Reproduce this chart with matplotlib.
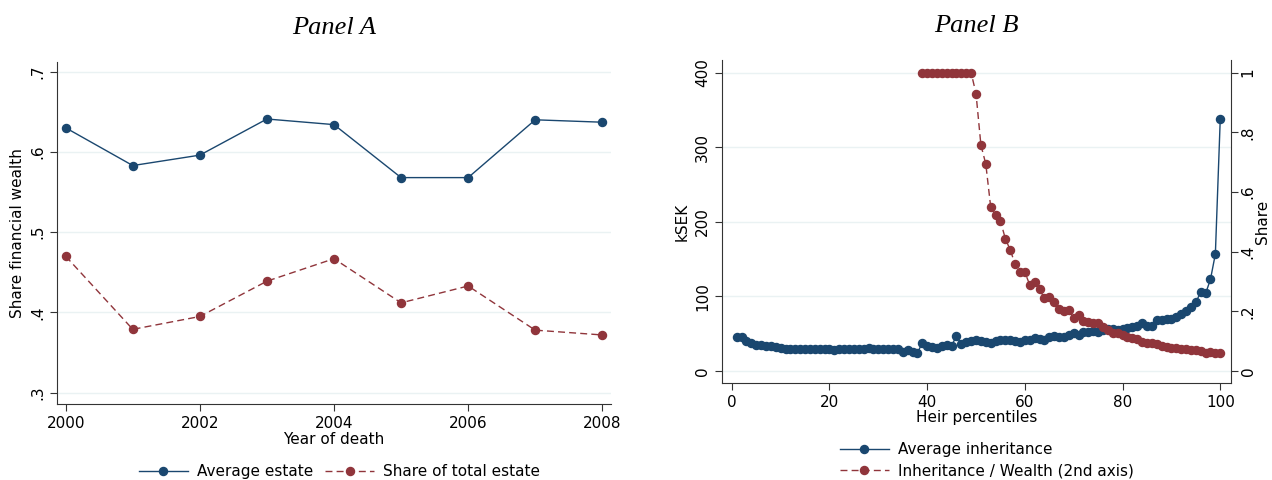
import matplotlib.pyplot as plt

# Panel A data
years = [2000, 2001, 2002, 2003, 2004, 2005, 2006, 2007, 2008]
avg_estate = [0.630, 0.583, 0.596, 0.641, 0.634, 0.568, 0.568, 0.640, 0.637]
share_total = [0.470, 0.379, 0.395, 0.439, 0.467, 0.412, 0.433, 0.378, 0.372]

# Panel B data
pct = list(range(1, 101))
avg_inher = [46, 46, 40, 37, 35, 35, 34, 33, 32, 31,
             30, 30, 29, 29, 29, 30, 30, 30, 29, 29,
             28, 29, 29, 29, 30, 29, 30, 31, 30, 30,
             29, 29, 30, 29, 25, 28, 26, 24, 38, 33,
             32, 31, 33, 35, 34, 47, 36, 39, 40, 41,
             40, 39, 37, 40, 42, 41, 41, 40, 39, 41,
             42, 44, 43, 42, 45, 47, 46, 45, 49, 51,
             49, 52, 53, 54, 53, 55, 56, 56, 55, 57,
             58, 59, 61, 65, 61, 60, 68, 68, 70, 70,
             73, 77, 80, 86, 92, 106, 104, 123, 157, 338]
pct_share = list(range(39, 101))
inher_share = [1.0, 1.0, 1.0, 1.0, 1.0, 1.0, 1.0, 1.0, 1.0, 1.0, 1.0,
               0.93, 0.758, 0.694, 0.551, 0.522, 0.503, 0.444, 0.406, 0.359, 0.333,
               0.331, 0.289, 0.298, 0.274, 0.244, 0.249, 0.233, 0.207, 0.202, 0.205,
               0.177, 0.188, 0.169, 0.166, 0.160, 0.162, 0.147, 0.138, 0.129, 0.127,
               0.121, 0.115, 0.110, 0.106, 0.098, 0.093, 0.093, 0.091, 0.084, 0.080,
               0.076, 0.076, 0.073, 0.073, 0.071, 0.071, 0.066, 0.061, 0.063, 0.062,
               0.062]

navy = '#1a476f'
maroon = '#90353b'
grid_c = '#eaf2f3'

plt.rcParams['font.family'] = 'DejaVu Sans'
plt.rcParams['font.size'] = 11

fig = plt.figure(figsize=(12.72, 4.8), dpi=100)

def style(ax):
    for s in ['top', 'right']:
        ax.spines[s].set_visible(False)
    ax.spines['left'].set_color('#333333')
    ax.spines['bottom'].set_color('#333333')
    ax.tick_params(direction='out', length=5, color='#333333', labelsize=11)
    ax.grid(axis='y', color=grid_c, linewidth=1)
    ax.set_axisbelow(True)
    for lab in ax.get_yticklabels():
        lab.set_rotation(90)
        lab.set_va('center')

# Panel A
axA = fig.add_axes([57/1272, 1 - 404/480, (611 - 57)/1272, (404 - 62)/480])
axA.plot(years, avg_estate, color=navy, marker='o', markersize=5.8, lw=1, label='Average estate')
axA.plot(years, share_total, color=maroon, marker='o', markersize=5.8, lw=1, ls=(0, (5, 3)), label='Share of total estate')
axA.set_xlim(1999.87, 2008.13)
axA.set_ylim(0.286, 0.712)
axA.set_xticks([2000, 2002, 2004, 2006, 2008])
axA.set_yticks([0.3, 0.4, 0.5, 0.6, 0.7])
axA.set_yticklabels(['.3', '.4', '.5', '.6', '.7'])
style(axA)
axA.set_xlabel('Year of death', fontsize=11, labelpad=1)
axA.set_ylabel('Share financial wealth', fontsize=11, labelpad=4)
axA.set_title('Panel A', fontfamily='Liberation Serif', fontstyle='italic', fontsize=19, pad=20)
axA.legend(loc='upper center', bbox_to_anchor=(0.51, -0.135), ncol=2, frameon=False,
           fontsize=11, handlelength=3.2, columnspacing=0.8, handletextpad=0.6)

# Panel B
axB = fig.add_axes([722/1272, 1 - 383/480, (1231 - 722)/1272, (383 - 60)/480])
l1, = axB.plot(pct, avg_inher, color=navy, marker='o', markersize=5.8, lw=1, label='Average inheritance')
axB.set_xlim(-2.0, 102.2)
axB.set_ylim(-16, 417)
axB.set_xticks([0, 20, 40, 60, 80, 100])
axB.set_yticks([0, 100, 200, 300, 400])
style(axB)
axB.set_xlabel('Heir percentiles', fontsize=11, labelpad=0)
axB.set_ylabel('kSEK', fontsize=11, labelpad=4)
axB.set_title('Panel B', fontfamily='Liberation Serif', fontstyle='italic', fontsize=19, pad=20)

axB2 = axB.twinx()
l2, = axB2.plot(pct_share, inher_share, color=maroon, marker='o', markersize=5.8, lw=1, ls=(0, (5, 3)),
                label='Inheritance / Wealth (2nd axis)')
axB2.set_ylim(-16 / 400, 417 / 400)
axB2.set_yticks([0, 0.2, 0.4, 0.6, 0.8, 1.0])
axB2.set_yticklabels(['0', '.2', '.4', '.6', '.8', '1'])
for s in ['top', 'left', 'bottom']:
    axB2.spines[s].set_visible(False)
axB2.spines['right'].set_color('#333333')
axB2.tick_params(direction='out', length=5, pad=2, color='#333333', labelsize=11)
for lab in axB2.get_yticklabels():
    lab.set_rotation(90)
    lab.set_va('center')
axB2.set_ylabel('Share', fontsize=11, rotation=90, va='center')
axB2.yaxis.set_label_coords((1263 - 722) / (1231 - 722), 0.5)

axB.legend([l1, l2], [l1.get_label(), l2.get_label()], loc='upper center', bbox_to_anchor=(0.52, -0.14),
           ncol=1, frameon=False, fontsize=11, handlelength=3.2, handletextpad=0.6, labelspacing=0.45)

fig.savefig('out.png', dpi=100)
